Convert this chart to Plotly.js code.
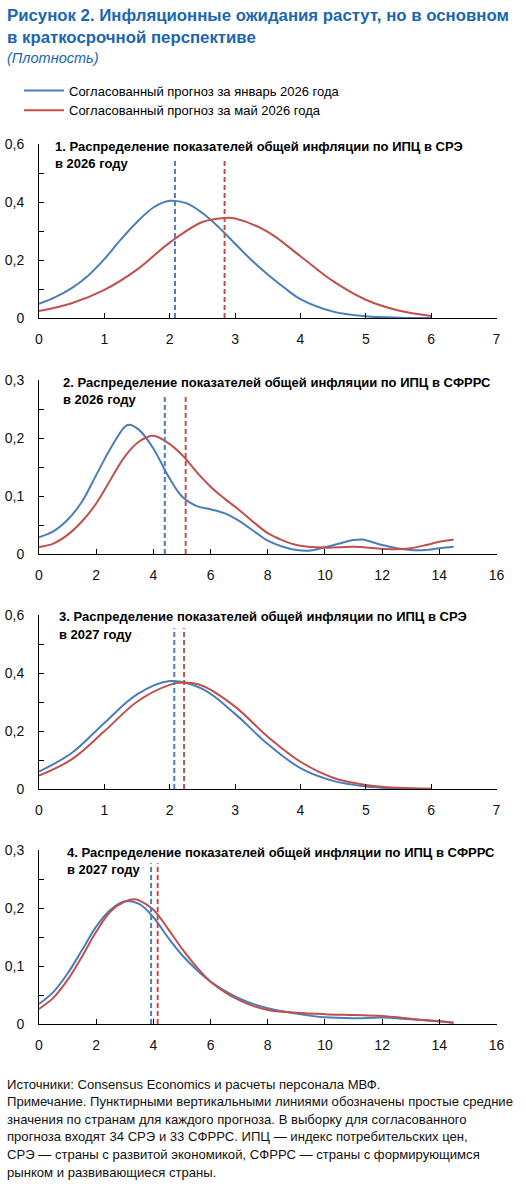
<!DOCTYPE html>
<html>
<head>
<meta charset="utf-8">
<script src="https://cdn.plot.ly/plotly-3.0.1.min.js"></script>
<style>
html,body{margin:0;padding:0;background:#fff;}
#chart{width:526px;height:1187px;}
</style>
</head>
<body>
<div id="chart"></div>
<script>
// ---------- DATA ----------
var seriesNames = ["Согласованный прогноз за январь 2026 года", "Согласованный прогноз за май 2026 года"];

var panelTitles = [
  ["1. Распределение показателей общей инфляции по ИПЦ в СРЭ", "в 2026 году"],
  ["2. Распределение показателей общей инфляции по ИПЦ в СФРРС", "в 2026 году"],
  ["3. Распределение показателей общей инфляции по ИПЦ в СРЭ", "в 2027 году"],
  ["4. Распределение показателей общей инфляции по ИПЦ в СФРРС", "в 2027 году"]
];

// Panel 1: AE 2026
var p1JanX = [0,0.25,0.5,0.75,1,1.25,1.5,1.75,2,2.25,2.5,2.75,3,3.25,3.5,3.75,4,4.5,5,5.5,6];
var p1JanY = [0.049,0.072,0.103,0.146,0.203,0.270,0.331,0.381,0.404,0.396,0.362,0.313,0.256,0.200,0.150,0.105,0.065,0.022,0.006,0.001,0.000];
var p1MayX = [0,0.5,1,1.5,2,2.5,2.85,3,3.5,4,4.5,5,5.5,6];
var p1MayY = [0.024,0.051,0.097,0.167,0.260,0.331,0.345,0.343,0.297,0.213,0.127,0.063,0.026,0.007];
var p1Means = [2.08, 2.84];

// Panel 2: EMDE 2026
var p2JanX = [0,0.5,1,1.5,2,2.5,3,3.15,3.5,4,4.5,5,5.5,6,6.5,7,7.5,8,8.5,9,9.5,10,10.5,11,11.3,12,12.5,13,13.5,14,14.5];
var p2JanY = [0.029,0.039,0.059,0.090,0.136,0.182,0.2195,0.223,0.214,0.182,0.136,0.099,0.083,0.077,0.070,0.057,0.040,0.023,0.013,0.007,0.006,0.0115,0.018,0.024,0.025,0.0155,0.010,0.007,0.007,0.010,0.0126];
var p2MayX = [0,0.5,1,1.5,2,2.5,3,3.5,4,4.5,5,5.5,6,6.5,7,7.5,8,8.5,9,10,11,12,12.5,13,13.5,14,14.5];
var p2MayY = [0.012,0.018,0.033,0.056,0.087,0.128,0.168,0.194,0.204,0.192,0.171,0.142,0.116,0.095,0.076,0.055,0.036,0.024,0.0155,0.011,0.0126,0.009,0.008,0.010,0.015,0.021,0.025];
var p2Means = [4.40, 5.13];

// Panel 3: AE 2027
var p3JanX = [0,0.5,1,1.5,2,2.5,3,3.5,4,4.5,5,5.5,6];
var p3JanY = [0.060,0.124,0.228,0.326,0.372,0.345,0.259,0.155,0.072,0.028,0.009,0.002,0.000];
var p3MayX = [0,0.5,1,1.5,2,2.2,2.5,3,3.5,4,4.5,5,5.5,6];
var p3MayY = [0.046,0.102,0.199,0.301,0.359,0.367,0.356,0.284,0.180,0.094,0.039,0.014,0.004,0.001];
var p3Means = [2.07, 2.22];

// Panel 4: EMDE 2027
var p4JanX = [0,0.5,1,1.5,2,2.5,3,3.5,4,4.5,5,5.5,6,7,8,9,10,11,12,13,14,14.5];
var p4JanY = [0.0345,0.055,0.087,0.127,0.168,0.197,0.2115,0.207,0.184,0.150,0.119,0.094,0.073,0.044,0.027,0.018,0.0115,0.010,0.011,0.008,0.0046,0.002];
var p4MayX = [0,0.5,1,1.5,2,2.5,3,3.35,3.5,4,4.5,5,5.5,6,7,8,9,10,11,12,13,14,14.5];
var p4MayY = [0.026,0.045,0.076,0.116,0.159,0.194,0.211,0.215,0.213,0.197,0.165,0.130,0.099,0.073,0.041,0.024,0.0195,0.017,0.0155,0.014,0.009,0.0046,0.002];
var p4Means = [3.92, 4.15];

var meanLineTops = [0.55, 0.276, 0.554, 0.277];
var xRanges = [[0,7],[0,16],[0,7],[0,16]];
var yRanges = [[0,0.6],[0,0.3],[0,0.6],[0,0.3]];
var xDticks = [1,2,1,2];
var yDticks = [0.2,0.1,0.2,0.1];

var mainTitleLines = ["Рисунок 2. Инфляционные ожидания растут, но в основном", "в краткосрочной перспективе"];
var subTitle = "(Плотность)";
var footerLines = [
  "Источники: Consensus Economics и расчеты персонала МВФ.",
  "Примечание. Пунктирными вертикальными линиями обозначены простые средние",
  "значения по странам для каждого прогноза. В выборку для согласованного",
  "прогноза входят 34 СРЭ и 33 СФРРС. ИПЦ — индекс потребительских цен,",
  "СРЭ — страны с развитой экономикой, СФРРС — страны с формирующимся",
  "рынком и развивающиеся страны."
];

// ---------- STYLE / LAYOUT ----------
var W = 526, H = 1187;
var colors = ["#4a7ebb", "#c0504d"];
var FONT = "'Liberation Sans', Arial, sans-serif";
var plotLeft = 39, plotRight = 496.5;
var panelPx = [[144,318],[380,554],[615,789],[850,1024]]; // top, bottom

var panels = [
  {jx:p1JanX,jy:p1JanY,mx:p1MayX,my:p1MayY,means:p1Means},
  {jx:p2JanX,jy:p2JanY,mx:p2MayX,my:p2MayY,means:p2Means},
  {jx:p3JanX,jy:p3JanY,mx:p3MayX,my:p3MayY,means:p3Means},
  {jx:p4JanX,jy:p4JanY,mx:p4MayX,my:p4MayY,means:p4Means}
];
var titleX = [53, 61, 57, 65];

function textAt(txt, xpx, ycpx, size, color){
  return {
    xref: "paper", yref: "paper", x: xpx/W, y: 1 - ycpx/H,
    xanchor: "left", yanchor: "middle", align: "left", showarrow: false,
    text: txt, font: {size: size, family: FONT, color: color}
  };
}

var traces = [];
var layout = {
  width: W, height: H,
  margin: {l:0, r:0, t:0, b:0},
  paper_bgcolor: "#fff", plot_bgcolor: "#fff",
  separators: ", ",
  font: {family: FONT, color: "#000"},
  showlegend: true,
  legend: {
    x: 19/W, y: 1 - 75.5/H, xanchor: "left", yanchor: "top",
    font: {size: 13, family: FONT, color: "#000"},
    itemwidth: 40,
    bgcolor: "rgba(0,0,0,0)", borderwidth: 0, tracegroupgap: 0
  },
  annotations: [],
  shapes: []
};

panels.forEach(function(p, i){
  var n = i + 1;
  var xa = "x" + (n === 1 ? "" : n), ya = "y" + (n === 1 ? "" : n);
  var xk = "xaxis" + (n === 1 ? "" : n), yk = "yaxis" + (n === 1 ? "" : n);
  var top = panelPx[i][0], bot = panelPx[i][1];
  layout[xk] = {
    domain: [plotLeft/W, plotRight/W], anchor: ya,
    range: xRanges[i], dtick: xDticks[i], tick0: 0,
    ticks: "inside", ticklen: 5, tickcolor: "#000", tickwidth: 1,
    showline: true, linecolor: "#000", linewidth: 1,
    showgrid: false, zeroline: false, fixedrange: true,
    tickfont: {size: 14, family: FONT, color: "#111"},
    ticklabelstandoff: 8
  };
  layout[yk] = {
    domain: [1 - bot/H, 1 - top/H], anchor: xa,
    range: yRanges[i], dtick: yDticks[i], tick0: 0,
    ticks: "inside", ticklen: 5, tickcolor: "#000", tickwidth: 1,
    minor: {dtick: yDticks[i]/2, ticks: "inside", ticklen: 5, tickcolor: "#000", tickwidth: 1, showgrid: false},
    showline: true, linecolor: "#000", linewidth: 1,
    showgrid: false, zeroline: false, fixedrange: true,
    tickfont: {size: 14, family: FONT, color: "#111"},
    ticklabelstandoff: 11
  };
  [[p.jx, p.jy], [p.mx, p.my]].forEach(function(s, k){
    traces.push({
      type: "scatter", mode: "lines", x: s[0], y: s[1], xaxis: xa, yaxis: ya,
      line: {color: colors[k], width: 2, shape: "spline", smoothing: 1},
      name: seriesNames[k], showlegend: i === 0, hoverinfo: "skip"
    });
  });
  p.means.forEach(function(m, k){
    traces.push({
      type: "scatter", mode: "lines", x: [m, m], y: [0, meanLineTops[i]], xaxis: xa, yaxis: ya,
      line: {color: colors[k], width: 2, dash: "5px,3px"},
      showlegend: false, hoverinfo: "skip"
    });
  });
  layout.annotations.push(textAt("<b>" + panelTitles[i][0] + "</b>", titleX[i], top + 2, 13, "#000"));
  layout.annotations.push(textAt("<b>" + panelTitles[i][1] + "</b>", titleX[i], top + 19.5, 13, "#000"));
});

layout.annotations.push(textAt("<b>" + mainTitleLines[0] + "</b>", 5, 15, 16.8, "#1a66b0"));
layout.annotations.push(textAt("<b>" + mainTitleLines[1] + "</b>", 5, 37, 16.8, "#1a66b0"));
layout.annotations.push(textAt("<i>" + subTitle + "</i>", 5, 58, 14.5, "#1a66b0"));
footerLines.forEach(function(t, j){
  layout.annotations.push(textAt(t, 5, 1084 + j*17.6, 13.1, "#111"));
});

Plotly.newPlot("chart", traces, layout, {staticPlot: true, displayModeBar: false});
</script>
</body>
</html>
